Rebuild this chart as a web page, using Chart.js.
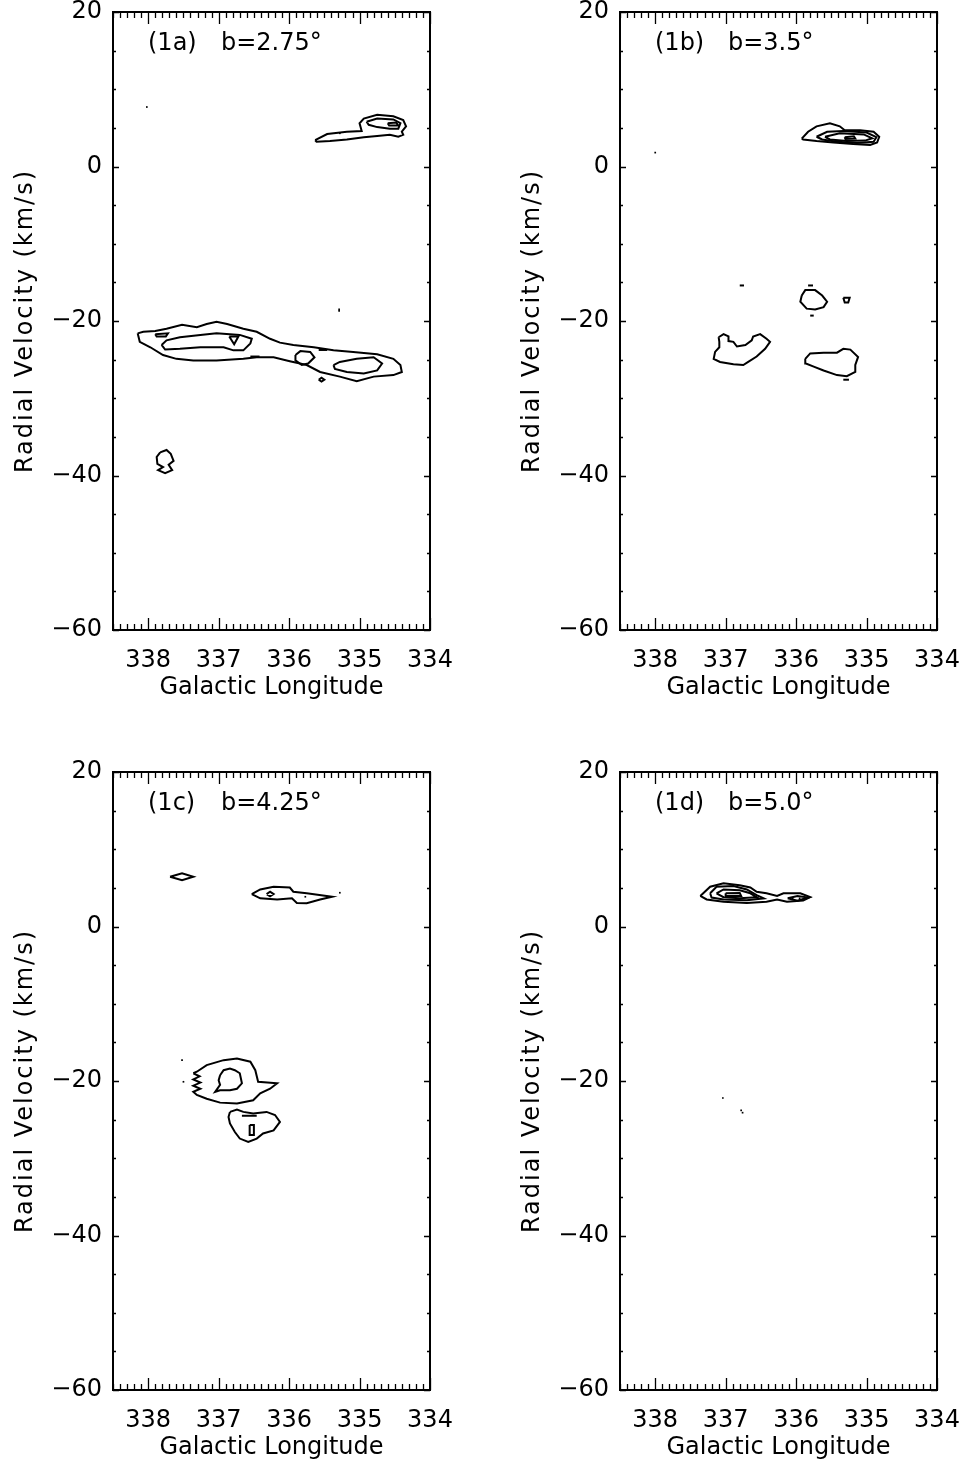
<!DOCTYPE html>
<html>
<head>
<meta charset="utf-8">
<script src="https://cdn.jsdelivr.net/npm/chart.js@4.4.0/dist/chart.umd.min.js"></script>
<style>
  body { margin: 0; background: #fff; overflow: hidden; }
  #page { position: relative; width: 959px; height: 1463px; }
  canvas { position: absolute; }
</style>
</head>
<body>
<div id="page">
  <canvas id="c1a" width="480" height="703" style="left:0px;top:0px"></canvas>
  <canvas id="c1b" width="480" height="703" style="left:507px;top:0px"></canvas>
  <canvas id="c1c" width="480" height="703" style="left:0px;top:760px"></canvas>
  <canvas id="c1d" width="480" height="703" style="left:507px;top:760px"></canvas>
</div>
<script>
//------------------------------------ DATA (longitude, km/s) ------------------------------------

var lonTicks = [338, 337, 336, 335, 334];
var velTicks = [20, 0, -20, -40, -60];
var panelTags = ["(1a)", "(1b)", "(1c)", "(1d)"];
var latitudes = ["b=2.75°", "b=3.5°", "b=4.25°", "b=5.0°"];

// each contour = closed list of [longitude, velocity]
var contours1a = [
  [[338.15,-21.6],[338.07,-21.4],[337.90,-21.3],[337.74,-21.0],[337.52,-20.5],[337.31,-20.8],[337.17,-20.4],[337.03,-20.1],[336.88,-20.4],[336.65,-21.0],[336.46,-21.4],[336.27,-22.3],[336.13,-22.8],[335.94,-23.1],[335.65,-23.4],[335.37,-23.8],[335.09,-24.0],[334.75,-24.3],[334.52,-24.9],[334.42,-25.7],[334.40,-26.6],[334.52,-27.0],[334.80,-27.2],[335.04,-27.8],[335.28,-27.2],[335.56,-26.6],[335.75,-25.7],[335.99,-25.2],[336.22,-24.7],[336.46,-24.7],[336.65,-24.9],[337.03,-25.1],[337.36,-25.1],[337.60,-24.9],[337.79,-24.4],[337.97,-23.4],[338.12,-22.7]],
  [[337.81,-23.1],[337.74,-22.5],[337.55,-22.1],[337.26,-21.8],[337.03,-21.6],[336.70,-21.8],[336.53,-22.3],[336.55,-22.9],[336.65,-23.8],[336.79,-23.8],[336.93,-23.4],[337.26,-23.4],[337.55,-23.6],[337.76,-23.7]],
  [[336.85,-22.0],[336.72,-22.0],[336.78,-23.0]],
  [[337.90,-21.7],[337.72,-21.6],[337.75,-22.0],[337.88,-22.0]],
  [[335.91,-24.4],[335.84,-23.9],[335.70,-24.0],[335.64,-24.7],[335.73,-25.5],[335.82,-25.7],[335.91,-25.1]],
  [[335.37,-25.7],[335.28,-25.3],[335.04,-24.9],[334.80,-24.7],[334.68,-25.5],[334.75,-26.4],[334.94,-26.8],[335.18,-26.6],[335.35,-26.2]],
  [[335.58,-23.75],[335.46,-23.75]],
  [[336.55,-24.6],[336.42,-24.6]],
  [[335.58,-27.6],[335.54,-27.35],[335.50,-27.6],[335.54,-27.85]],
  [[337.83,-37.0],[337.74,-36.7],[337.68,-37.2],[337.64,-38.1],[337.71,-38.6],[337.66,-39.3],[337.76,-39.7],[337.86,-39.3],[337.79,-38.9],[337.87,-38.5],[337.88,-37.6]],
  [[335.63,3.4],[335.46,4.2],[335.18,4.5],[334.97,4.6],[335.00,5.6],[334.94,6.2],[334.75,6.7],[334.52,6.5],[334.38,6.0],[334.34,5.2],[334.40,4.5],[334.38,4.1],[334.45,3.85],[334.57,4.1],[334.75,3.95],[334.94,3.8],[335.18,3.5],[335.42,3.3],[335.61,3.2]],
  [[334.90,5.8],[334.75,6.2],[334.52,6.1],[334.42,5.6],[334.45,4.9],[334.57,4.9],[334.75,5.1],[334.87,5.4]],
  [[334.60,5.6],[334.48,5.7],[334.45,5.3],[334.58,5.3]]
];
var dots1a = [[338.02,7.7],[335.29,-18.5],[335.29,-18.7],[335.28,4.3]];

var contours1b = [
  [[335.92,3.6],[335.83,4.5],[335.71,5.2],[335.52,5.6],[335.38,5.2],[335.31,4.7],[335.09,4.7],[334.90,4.5],[334.82,3.85],[334.85,3.1],[334.95,2.8],[335.19,2.9],[335.47,3.1],[335.71,3.3],[335.90,3.5]],
  [[335.71,3.85],[335.56,4.5],[335.33,4.6],[335.00,4.4],[334.86,3.8],[334.90,3.2],[335.14,3.05],[335.42,3.2],[335.63,3.5]],
  [[335.59,3.85],[335.38,4.3],[335.04,4.15],[334.92,3.65],[335.02,3.35],[335.28,3.3],[335.52,3.5]],
  [[335.31,3.8],[335.18,3.9],[335.16,3.6],[335.30,3.55]],
  [[335.92,-16.7],[335.87,-16.0],[335.73,-16.0],[335.63,-16.7],[335.56,-17.5],[335.61,-18.2],[335.73,-18.5],[335.85,-18.4],[335.94,-17.5]],
  [[335.83,-15.4],[335.76,-15.4]],
  [[335.80,-19.3],[335.75,-19.3]],
  [[336.80,-15.4],[336.74,-15.4]],
  [[335.33,-17.0],[335.24,-17.0],[335.26,-17.6],[335.31,-17.6]],
  [[337.10,-22.1],[337.03,-21.7],[336.96,-22.0],[336.96,-22.6],[336.89,-22.7],[336.84,-23.3],[336.72,-23.1],[336.63,-22.5],[336.61,-22.0],[336.51,-21.7],[336.42,-22.3],[336.37,-22.7],[336.44,-23.6],[336.56,-24.6],[336.68,-25.3],[336.75,-25.7],[336.89,-25.6],[337.08,-25.3],[337.17,-24.9],[337.15,-24.0],[337.09,-23.4],[337.09,-22.7]],
  [[335.87,-24.9],[335.80,-24.2],[335.61,-24.1],[335.42,-24.1],[335.33,-23.6],[335.23,-23.7],[335.12,-24.65],[335.16,-25.7],[335.16,-26.6],[335.28,-27.15],[335.42,-27.0],[335.61,-26.4],[335.75,-25.9],[335.86,-25.5]],
  [[335.33,-27.6],[335.25,-27.6]]
];
var dots1b = [[338.0,1.8]];

var contours1c = [
  [[337.69,6.45],[337.52,6.9],[337.36,6.45],[337.52,6.0]],
  [[336.53,4.2],[336.41,4.8],[336.22,5.15],[335.99,5.05],[335.94,4.5],[335.75,4.3],[335.39,3.85],[335.56,3.5],[335.75,3.0],[335.89,3.05],[335.96,3.65],[336.17,3.5],[336.41,3.65]],
  [[336.32,4.2],[336.27,4.5],[336.22,4.2],[336.27,3.9]],
  [[337.36,-19.0],[337.31,-18.8],[337.17,-17.95],[336.93,-17.3],[336.74,-17.1],[336.55,-17.5],[336.48,-18.6],[336.44,-20.1],[336.17,-20.3],[336.27,-21.0],[336.41,-21.6],[336.51,-22.5],[336.74,-22.9],[336.98,-22.8],[337.17,-22.3],[337.31,-21.8],[337.36,-21.4],[337.26,-21.0],[337.36,-20.6],[337.26,-20.2],[337.36,-19.8],[337.27,-19.4]],
  [[336.98,-19.25],[336.93,-18.6],[336.84,-18.4],[336.77,-18.6],[336.70,-19.0],[336.67,-20.3],[336.74,-21.0],[336.84,-21.2],[336.98,-21.2],[337.05,-21.4],[336.98,-20.5],[337.00,-19.9]],
  [[336.84,-24.0],[336.74,-23.7],[336.65,-24.0],[336.51,-24.2],[336.32,-24.0],[336.20,-24.4],[336.13,-25.3],[336.22,-26.4],[336.37,-26.8],[336.46,-27.45],[336.58,-27.9],[336.70,-27.45],[336.77,-26.6],[336.84,-25.5],[336.86,-24.65]],
  [[336.67,-24.5],[336.46,-24.5]],
  [[336.56,-25.7],[336.50,-25.7],[336.50,-27.0],[336.56,-27.0]]
];
var dots1c = [[337.52,-17.3],[337.50,-20.1],[335.77,3.85],[335.28,4.37]];

var contours1d = [
  [[337.36,3.95],[337.22,5.15],[337.03,5.6],[336.80,5.35],[336.65,5.05],[336.56,4.5],[336.42,4.3],[336.27,3.95],[336.18,4.3],[335.94,4.3],[335.80,3.8],[335.90,3.35],[336.13,3.2],[336.27,3.5],[336.42,3.2],[336.70,3.05],[337.03,3.2],[337.27,3.5]],
  [[337.22,4.3],[337.13,5.15],[336.89,5.25],[336.70,4.8],[336.56,4.05],[336.46,3.65],[336.70,3.4],[337.03,3.5],[337.20,3.75]],
  [[337.13,4.3],[337.03,4.8],[336.80,4.7],[336.65,4.3],[336.56,3.8],[336.80,3.65],[337.03,3.8]],
  [[337.00,4.3],[336.80,4.35],[336.78,3.95],[337.00,3.95]],
  [[336.12,3.65],[335.98,3.95],[335.83,3.75],[335.98,3.35]]
];
var dots1d = [[337.04,-22.2],[336.78,-23.8],[336.76,-24.1],[336.05,3.65],[335.95,3.65]];

//------------------------------------------ CHARTS ----------------------------------------------

var FONT = "DejaVu Sans";

function toPoints(list, close) {
  var pts = list.map(function (p) { return { x: p[0], y: p[1] }; });
  if (close && pts.length > 2) pts.push({ x: list[0][0], y: list[0][1] });
  return pts;
}

function buildDatasets(contours, dots) {
  var sets = contours.map(function (poly) {
    return {
      data: toPoints(poly, true),
      showLine: true,
      borderColor: '#000',
      borderWidth: 2,
      pointRadius: 0,
      tension: 0,
      fill: false
    };
  });
  sets.push({
    data: toPoints(dots, false),
    showLine: false,
    pointStyle: 'rect',
    pointRadius: 1.2,
    backgroundColor: '#000',
    borderWidth: 0
  });
  return sets;
}

function minus(v) { return String(v).replace('-', '\u2212'); }

// box + inward ticks on all four sides (IDL style), plus the panel caption
var frameTicks = {
  id: 'frameTicks',
  afterLayout: function (chart) {
    // the vertical title is spaced out a little wider, like the plot font
    var ys = chart.scales.y;
    if (ys._spaced) return;
    var orig = ys.drawTitle;
    ys.drawTitle = function () {
      this.ctx.save();
      this.ctx.letterSpacing = '2px';
      orig.call(this);
      this.ctx.restore();
    };
    ys._spaced = true;
  },
  afterDraw: function (chart) {
    var ctx = chart.ctx, a = chart.chartArea;
    var xs = chart.scales.x, ys = chart.scales.y;
    var k, v, p, len;
    ctx.save();
    ctx.strokeStyle = '#000';
    ctx.lineWidth = 1.3;
    ctx.beginPath();
    for (k = 0; k <= 45; k++) {
      v = 334 + k * 0.1;
      p = Math.round(xs.getPixelForValue(v)) + 0.5;
      len = (k % 10 === 0) ? 12 : 6;
      ctx.moveTo(p, a.bottom); ctx.lineTo(p, a.bottom - len);
      ctx.moveTo(p, a.top); ctx.lineTo(p, a.top + len);
    }
    for (k = 0; k <= 16; k++) {
      v = -60 + k * 5;
      p = Math.round(ys.getPixelForValue(v)) + 0.5;
      len = (k % 4 === 0) ? 6 : 3;
      ctx.moveTo(a.left, p); ctx.lineTo(a.left + len, p);
      ctx.moveTo(a.right, p); ctx.lineTo(a.right - len, p);
    }
    ctx.stroke();
    ctx.lineWidth = 2;
    ctx.strokeRect(a.left, a.top, a.right - a.left, a.bottom - a.top);

    var o = chart.options.plugins.panelText;
    ctx.fillStyle = '#000';
    ctx.font = '24px "' + FONT + '"';
    ctx.textBaseline = 'middle';
    ctx.textAlign = 'left';
    ctx.fillText(o.tag, a.left + 35, a.top + 32);
    ctx.fillText(o.lat, a.left + 108, a.top + 32);
    ctx.restore();
  }
};

function makeOptions(tag, lat) {
  return {
    responsive: false,
    animation: false,
    layout: { padding: { top: 12, right: 50, left: 0, bottom: 0 } },
    plugins: {
      legend: { display: false },
      tooltip: { enabled: false },
      panelText: { tag: tag, lat: lat }
    },
    scales: {
      x: {
        type: 'linear',
        min: 334, max: 338.5,
        reverse: true,
        grid: { display: false, drawTicks: false },
        border: { display: false },
        afterBuildTicks: function (s) { s.ticks = lonTicks.map(function (v) { return { value: v }; }); },
        ticks: { color: '#000', font: { family: FONT, size: 24 }, padding: 16, maxRotation: 0, autoSkip: false },
        title: { display: true, text: 'Galactic Longitude', color: '#000',
                 font: { family: FONT, size: 24 }, padding: { top: 0, bottom: 1 } },
        afterFit: function (s) { s.height = 73; s.paddingLeft = 0; s.paddingRight = 0; }
      },
      y: {
        type: 'linear',
        min: -60, max: 20,
        grid: { display: false, drawTicks: false },
        border: { display: false },
        afterBuildTicks: function (s) { s.ticks = velTicks.map(function (v) { return { value: v }; }); },
        ticks: { color: '#000', font: { family: FONT, size: 24 }, padding: 11,
                 callback: function (v) { return minus(v); } },
        title: { display: true, text: 'Radial Velocity (km/s)', color: '#000',
                 font: { family: FONT, size: 24 }, padding: { top: 11, bottom: 0 } },
        afterFit: function (s) { s.width = 113; s.paddingTop = 0; s.paddingBottom = 0; }
      }
    }
  };
}

var panels = [
  ['c1a', contours1a, dots1a],
  ['c1b', contours1b, dots1b],
  ['c1c', contours1c, dots1c],
  ['c1d', contours1d, dots1d]
];

for (var i = 0; i < panels.length; i++) {
  new Chart(document.getElementById(panels[i][0]), {
    type: 'scatter',
    data: { datasets: buildDatasets(panels[i][1], panels[i][2]) },
    options: makeOptions(panelTags[i], latitudes[i]),
    plugins: [frameTicks]
  });
}
</script>
</body>
</html>
